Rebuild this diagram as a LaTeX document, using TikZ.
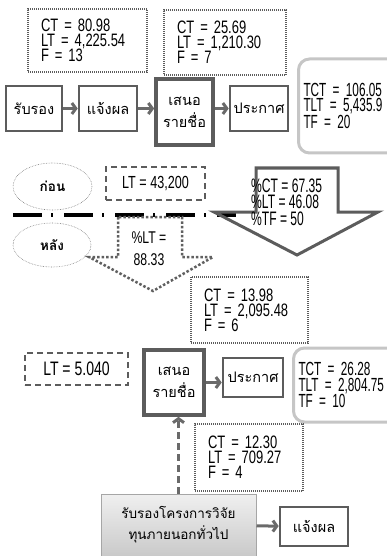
\documentclass[tikz,border=0pt]{standalone}
\usepackage{fontspec}
\setmainfont{Liberation Sans}[FakeStretch=0.72]
\newfontfamily\tall{Liberation Sans}[FakeStretch=0.62]
\newfontfamily\thai[Script=Thai]{Loma}
\usetikzlibrary{arrows.meta, shapes.geometric}
\definecolor{boxgray}{HTML}{5C5C5C}
\definecolor{arrgray}{HTML}{6A6A6A}
\definecolor{rimgray}{HTML}{C6C6C6}
\tikzset{ st/.style = { draw         = boxgray
                       , line width   = 1.1pt
                       , dash pattern = on 1pt off 1pt
                       , align        = left
                       , inner xsep   = 13pt
                       , inner ysep   = 0pt
                       , font         = \fontsize{18}{15}\selectfont
                       },
          pr/.style = { rectangle
                       , draw         = boxgray
                       , line width   = 2.6pt
                       , align        = center
                       , inner sep    = 0pt
                       , font         = \thai\fontsize{14.5}{22}\selectfont
                       },
          tt/.style = { rectangle
                       , draw         = rimgray
                       , line width   = 3pt
                       , rounded corners = 11pt
                       , align        = left
                       , anchor       = west
                       , inner xsep   = 5pt
                       , text width   = 100pt
                       , font         = \tall\fontsize{19}{15.5}\selectfont
                       },
          ds/.style = { draw         = boxgray
                       , line width   = 1.4pt
                       , dash pattern = on 6pt off 4pt
                       , inner sep    = 0pt
                       , font         = \fontsize{17.5}{16}\selectfont
                       },
          ov/.style = { ellipse
                       , draw         = gray
                       , line width   = 0.6pt
                       , densely dotted
                       , inner sep    = 0pt
                       , font         = \thai\bfseries\fontsize{13.5}{16}\selectfont
                       },
          ar/.style = { draw = arrgray
                       , line width = 3pt
                       , -{Straight Barb[length=4pt, width=11pt]}
                       }
        }

\begin{document}
\begin{tikzpicture}[x=1pt, y=-1pt]
    \useasboundingbox (0,0) rectangle (386,556);
    % before
    \node[st, text width=93pt, minimum height=63pt] (s1) at (87.5,40.5)
        {CT = 80.98\\LT = 4,225.54\\F = 13};
    \node[st, text width=96pt, minimum height=65pt] (s2) at (225,42.5)
        {CT = 25.69\\LT = 1,210.30\\F = 7};
    \node[pr, minimum width=56pt, minimum height=45pt] (p1) at (34,108.5) {รับรอง};
    \node[pr, minimum width=58pt, minimum height=45pt] (p2) at (108,108.5) {แจ้งผล};
    \node[pr, line width=3.6pt, minimum width=57pt, minimum height=66pt] (p3) at (184.5,112)
        {เสนอ\\รายชื่อ};
    \node[pr, minimum width=58pt, minimum height=45pt] (p4) at (259,108.5) {ประกาศ};
    \node[tt, minimum height=94pt] (t1) at (297,106)
        {TCT = 106.05\\TLT = 5,435.9\\TF = 20};
    \draw[ar] (p1) -- (p2);
    \draw[ar] (p2) -- (p3.west |- p2);
    \draw[ar] (p3.east |- p4) -- (p4);

    % divider
    \node[ov, minimum width=79pt, minimum height=47pt] (e1) at (52.5,186.5) {ก่อน};
    \node[ov, minimum width=78pt, minimum height=44pt] (e2) at (52,245) {หลัง};
    \node[ds, minimum width=99pt, minimum height=33pt] (d1) at (155.5,183.5) {LT = 43,200};
    \draw[black, line width=3.5pt, dash pattern=on 29pt off 9pt on 2pt off 11pt]
        (13,215) -- (236,215);
    \draw[boxgray, line width=3pt, line join=miter]
        (256,168) -- (338,168) -- (338,212) -- (378,212) -- (297,255)
        -- (214,212) -- (256,212) -- cycle;
    \node[align=left, anchor=west, inner sep=0pt, font=\tall\fontsize{19.5}{16.5}\selectfont]
        (pc) at (251,202) {\%CT = 67.35\\\%LT = 46.08\\\%TF = 50};
    \draw[gray!75!black, line width=2.5pt, dash pattern=on 2.5pt off 2pt]
        (118,217) -- (118,257) -- (89,257) -- (153,291) -- (213,257)
        -- (182,257) -- (182,217) -- cycle;
    \node[align=center, inner sep=0pt, font=\fontsize{17}{22}\selectfont]
        (pl) at (149,249) {\%LT =\\88.33};

    % after
    \node[st, text width=91pt, minimum height=66pt] (s3) at (249.5,310)
        {CT = 13.98\\LT = 2,095.48\\F = 6};
    \node[ds, minimum width=103pt, minimum height=32pt, font=\fontsize{19.5}{16}\selectfont]
        (d2) at (76.5,369) {LT = 5.040};
    \node[pr, line width=3.6pt, minimum width=60pt, minimum height=65pt] (p5) at (174,382.5)
        {เสนอ\\รายชื่อ};
    \node[pr, minimum width=60pt, minimum height=39pt] (p6) at (253,377.5) {ประกาศ};
    \node[tt, minimum height=74pt, font=\tall\fontsize{19}{16}\selectfont] (t2) at (292,385)
        {TCT = 26.28\\TLT = 2,804.75\\TF = 10};
    \node[st, text width=82pt, minimum height=67pt] (s4) at (249,457.5)
        {CT = 12.30\\LT = 709.27\\F = 4};
    \node[pr, line width=1pt, draw=gray!70, top color=gray!12, bottom color=gray!42,
          minimum width=155pt, minimum height=62pt, font=\thai\fontsize{13.5}{21}\selectfont]
        (gb) at (178.5,525) {รับรองโครงการวิจัย\\ทุนภายนอกทั่วไป};
    \node[pr, minimum width=68pt, minimum height=39pt] (p7) at (314,526.5) {แจ้งผล};
    \draw[ar] (p5) -- (p5 -| p6.west);
    \draw[ar, dash pattern=on 7pt off 4pt] (gb.north) -- (gb.north |- p5.south);
    \draw[ar] (gb) -- (p7);
\end{tikzpicture}
\end{document}
